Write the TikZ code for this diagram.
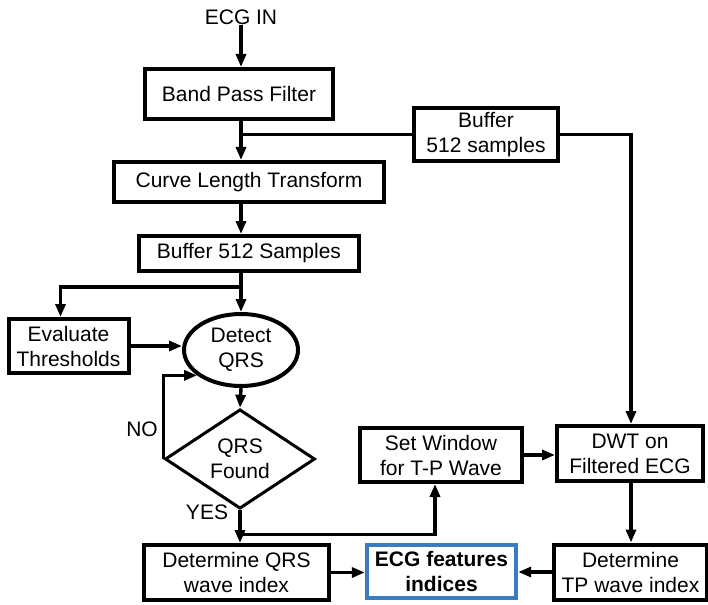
\documentclass[tikz,border=0pt]{standalone}
\usepackage{fontspec}
\setmainfont{Liberation Sans}
\usetikzlibrary{arrows.meta,shapes.geometric,calc}
\definecolor{featblue}{RGB}{58,124,192}
\begin{document}
\begin{tikzpicture}[x=1pt,y=-1pt,
  font=\fontsize{21}{25}\selectfont,
  box/.style={draw, line width=4pt, rectangle, inner sep=0pt, align=center},
  flow/.style={line width=3.4pt, -{Triangle[length=13pt,width=10pt]}},
  wire/.style={line width=3.4pt},
  lbl/.style={inner sep=0pt},
]
\useasboundingbox (0,0) rectangle (708,604);

% main column
\coordinate (col) at (241,0);

% blocks
\node[lbl] (ecgin) at (241,17) {ECG IN};
\node[box, minimum width=188, minimum height=50] (bpf) at (239,94) {Band Pass Filter};
\node[box, minimum width=144, minimum height=53] (buf1) at (486,134.5) {Buffer\\512 samples};
\node[box, minimum width=270, minimum height=40] (clt) at (249,182) {Curve Length Transform};
\node[box, minimum width=220, minimum height=35] (buf2) at (249,253.5) {Buffer 512 Samples};
\node[box, minimum width=120, minimum height=54] (eval) at (68.5,346) {Evaluate\\Thresholds};
\node[draw, ellipse, line width=4pt, inner sep=0pt, minimum width=114, minimum height=72, align=center] (detect) at (241,350) {Detect\\QRS};
\node[draw, diamond, line width=3pt, inner sep=0pt, minimum width=150, minimum height=69, align=center] (found) at (240,459) {QRS\\Found};
\node[box, minimum width=162, minimum height=54] (setwin) at (441,455) {Set Window\\for T-P Wave};
\node[box, minimum width=146, minimum height=55] (dwt) at (630,453.5) {DWT on\\Filtered ECG};
\node[box, minimum width=185, minimum height=55] (detqrs) at (236.5,572.5) {Determine QRS\\wave index};
\node[box, draw=featblue, line width=4.4pt, minimum width=149, minimum height=53, font=\fontsize{21}{25}\selectfont\bfseries] (feat) at (441.5,571.5) {ECG features\\indices};
\node[box, minimum width=153, minimum height=55] (dettp) at (630.5,572) {Determine\\TP wave index};

% branch labels
\node[lbl] (no) at (142,429) {NO};
\node[lbl] (yes) at (207,512) {YES};

% junctions
\coordinate (j1) at (buf1.west -| col);
\coordinate (j2) at (241,287);
\coordinate (j3) at ($(found.south)+(0,24)$);

% connectors
\draw[flow] (ecgin) -- (ecgin |- bpf.north);
\draw[flow] (bpf.south -| col) -- (clt.north -| col);
\draw[wire] (j1) -- (buf1.west);
\draw[flow] (buf1.east) -| ([xshift=1pt]dwt.north);
\draw[flow] (clt.south -| col) -- (buf2.north -| col);
\draw[wire] (buf2.south -| col) -- (j2);
\draw[flow] (j2) -- (detect.north);
\draw[flow] (j2) -| ([xshift=-8pt]eval.north);
\draw[flow] (eval.east) -- (eval.east -| detect.west);
\draw[flow] (detect.south) -- (found.north);
\draw[flow] (found.west) |- (detect.210);
\draw[flow] (found.south) -- (found.south |- detqrs.north);
\draw[flow] (j3) -| ([xshift=-6pt]setwin.south);
\draw[flow] (setwin.east) -- (setwin.east -| dwt.west);
\draw[flow] ([xshift=1pt]dwt.south) -- ([xshift=1pt]dwt.south |- dettp.north);
\draw[flow] (dettp.west) -- (dettp.west -| feat.east);
\draw[flow] (detqrs.east) -- (detqrs.east -| feat.west);
\end{tikzpicture}
\end{document}
